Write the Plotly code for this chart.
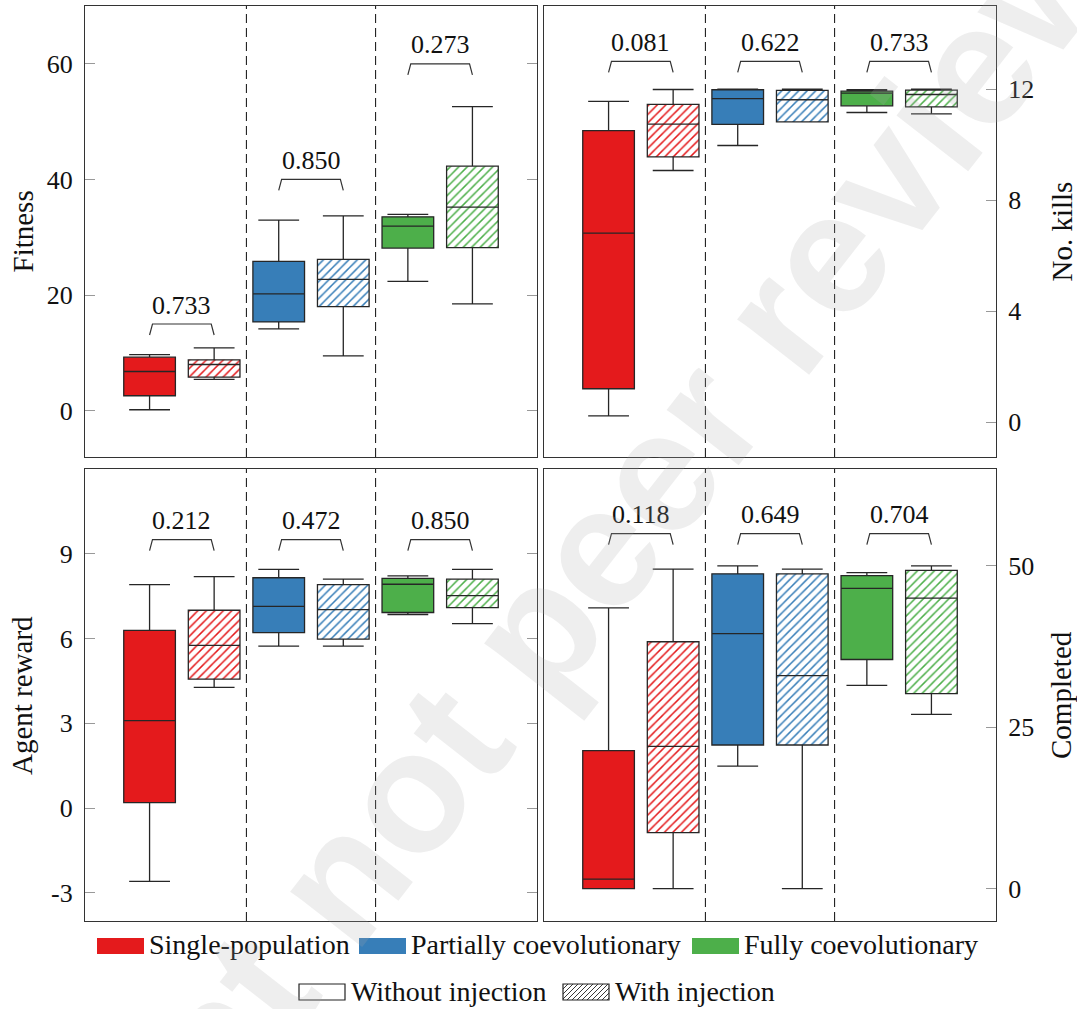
import plotly.graph_objects as go

# ---------------- data ----------------
groups = ["Single-population", "Partially coevolutionary", "Fully coevolutionary"]
group_colors = ["#E41A1C", "#377EB8", "#4DAF4A"]
injection_labels = ["Without injection", "With injection"]
# box order: (Single, without), (Single, with), (Partial, without), (Partial, with), (Fully, without), (Fully, with)
box_positions = [0, 1, 2, 3, 4, 5]
box_group = [0, 0, 1, 1, 2, 2]
box_hatched = [False, True, False, True, False, True]

# Fitness (top-left)
fit_low = [0.17, 5.41, 14.15, 9.49, 22.38, 18.5]
fit_q1 = [2.59, 5.81, 15.36, 18.0, 28.14, 28.2]
fit_med = [6.79, 8.0, 20.2, 22.73, 31.93, 35.2]
fit_q3 = [9.26, 8.80, 25.83, 26.18, 33.54, 42.3]
fit_high = [9.72, 10.87, 32.97, 33.7, 33.95, 52.6]
fit_p = ["0.733", "0.850", "0.273"]
fit_bracket = [15, 40, 60]
fit_ticks = [0, 20, 40, 60]

# No. kills (top-right)
kill_low = [0.22, 9.07, 9.97, 10.82, 11.16, 11.11]
kill_q1 = [1.20, 9.56, 10.73, 10.82, 11.40, 11.36]
kill_med = [6.81, 10.74, 11.66, 11.62, 11.86, 11.81]
kill_q3 = [10.51, 11.45, 11.98, 11.96, 11.93, 11.97]
kill_high = [11.56, 11.99, 12.0, 12.0, 11.98, 12.0]
kill_p = ["0.081", "0.622", "0.733"]
kill_bracket = [13, 13, 13]
kill_ticks = [0, 4, 8, 12]

# Agent reward (bottom-left)
rew_low = [-2.60, 4.27, 5.73, 5.73, 6.85, 6.53]
rew_q1 = [0.19, 4.56, 6.21, 5.98, 6.92, 7.09]
rew_med = [3.09, 5.76, 7.14, 7.02, 7.92, 7.52]
rew_q3 = [6.29, 7.0, 8.15, 7.91, 8.13, 8.10]
rew_high = [7.91, 8.19, 8.45, 8.10, 8.22, 8.45]
rew_p = ["0.212", "0.472", "0.850"]
rew_bracket = [9.5, 9.5, 9.5]
rew_ticks = [-3, 0, 3, 6, 9]

# Completed (bottom-right)
comp_low = [0, 0, 19.0, 0, 31.5, 27.0]
comp_q1 = [0, 8.7, 22.26, 22.26, 35.5, 30.2]
comp_med = [1.5, 22.05, 39.5, 33.0, 46.5, 45.0]
comp_q3 = [21.4, 38.25, 48.76, 48.76, 48.5, 49.3]
comp_high = [43.5, 49.5, 50, 49.5, 48.96, 50]
comp_p = ["0.118", "0.649", "0.704"]
comp_bracket = [55, 55, 55]
comp_ticks = [0, 25, 50]

panel_titles = ["Fitness", "No. kills", "Agent reward", "Completed"]
watermark = "Preprint not peer reviewed"

# ---------------- layout geometry ----------------
W, H = 1077, 1009
ML, MR, MT, MB = 85, 81, 6, 88
PW = W - ML - MR
PH = H - MT - MB
FONT = "Liberation Serif, Times New Roman, serif"


def px_x(px):
    return (px - ML) / PW


def px_y(py):
    return (H - MB - py) / PH


panel_px = [  # x0, x1, y_top, y_bottom
    (85, 537, 6, 457),
    (544, 996, 6, 457),
    (85, 537, 469, 921),
    (544, 996, 469, 921),
]
panel_ranges = [[-8, 70], [-1.26, 15], [-4, 12], [-5, 65]]
panel_side = ["left", "right", "left", "right"]

panels = [
    (fit_low, fit_q1, fit_med, fit_q3, fit_high, fit_p, fit_bracket, fit_ticks),
    (kill_low, kill_q1, kill_med, kill_q3, kill_high, kill_p, kill_bracket, kill_ticks),
    (rew_low, rew_q1, rew_med, rew_q3, rew_high, rew_p, rew_bracket, rew_ticks),
    (comp_low, comp_q1, comp_med, comp_q3, comp_high, comp_p, comp_bracket, comp_ticks),
]

fig = go.Figure()
shapes = []
annotations = []
layout_axes = {}

for i, (low, q1, med, q3, high, pvals, brk, ticks) in enumerate(panels):
    xa = "x" if i == 0 else f"x{i+1}"
    ya = "y" if i == 0 else f"y{i+1}"
    xname = "xaxis" if i == 0 else f"xaxis{i+1}"
    yname = "yaxis" if i == 0 else f"yaxis{i+1}"
    x0, x1, yt, yb = panel_px[i]
    rng = panel_ranges[i]

    for k, pos in enumerate(box_positions):
        col = group_colors[box_group[k]]
        if box_hatched[k]:
            fig.add_trace(go.Bar(
                x=[pos], y=[q3[k] - q1[k]], base=[q1[k]], width=0.8,
                marker=dict(color="white", line=dict(width=0),
                            pattern=dict(shape="/", fgcolor=col, bgcolor="white",
                                         fgopacity=1, size=6, solidity=0.25)),
                xaxis=xa, yaxis=ya, showlegend=False, hoverinfo="skip"))
        fig.add_trace(go.Box(
            x=[pos], q1=[q1[k]], median=[med[k]], q3=[q3[k]],
            lowerfence=[low[k]], upperfence=[high[k]],
            width=0.8, whiskerwidth=0.79,
            fillcolor="rgba(0,0,0,0)" if box_hatched[k] else col,
            line=dict(color="#262626", width=1.3),
            boxpoints=False, xaxis=xa, yaxis=ya,
            showlegend=False, hoverinfo="skip"))

    # significance brackets
    drop = 11 * (rng[1] - rng[0]) / (yb - yt)
    for g in range(3):
        a = box_positions[2 * g]
        b = box_positions[2 * g + 1]
        fig.add_trace(go.Scatter(
            x=[a, a + 0.045, b - 0.045, b],
            y=[brk[g] - drop, brk[g], brk[g], brk[g] - drop],
            mode="lines", line=dict(color="#333333", width=1.2),
            xaxis=xa, yaxis=ya, showlegend=False, hoverinfo="skip"))
        annotations.append(dict(
            x=(a + b) / 2, y=brk[g], xref=xa, yref=ya, text=pvals[g],
            showarrow=False, yanchor="middle", yshift=19,
            font=dict(family=FONT, size=26, color="#111")))

    # group separators
    for sep in [1.5, 3.5]:
        shapes.append(dict(type="line", xref=xa, yref=f"{ya} domain",
                           x0=sep, x1=sep, y0=0, y1=1,
                           line=dict(color="#222", width=1.1, dash="9px,5px")))

    layout_axes[xname] = dict(
        domain=[px_x(x0), px_x(x1)], range=[-1, 6], anchor=ya,
        showticklabels=False, ticks="", showgrid=False, zeroline=False,
        showline=True, linecolor="#333", linewidth=1.2, mirror=True)
    layout_axes[yname] = dict(
        domain=[px_y(yb), px_y(yt)], range=rng, anchor=xa,
        side=panel_side[i], tickvals=ticks, ticktext=[str(t) for t in ticks],
        ticks="inside", ticklen=10,
        tickcolor="#999", tickwidth=1, showgrid=False, zeroline=False,
        showline=True, linecolor="#333", linewidth=1.2,
        mirror="ticks" if panel_side[i] == "left" else True,
        ticklabelstandoff=6,
        tickfont=dict(family=FONT, size=26, color="#111"))

    # axis titles
    tx = 22 if panel_side[i] == "left" else 1061
    annotations.append(dict(
        x=px_x(tx), y=px_y((yt + yb) / 2), xref="paper", yref="paper",
        text=panel_titles[i], textangle=-90, showarrow=False,
        xanchor="center", yanchor="middle",
        font=dict(family=FONT, size=29, color="#111")))

# ---------------- legend (drawn manually) ----------------
row1_y0, row1_y1 = 938, 954
legend_row1_x = [(97, 144), (359, 406), (692, 739)]
for g in range(3):
    sx0, sx1 = legend_row1_x[g]
    shapes.append(dict(type="rect", xref="paper", yref="paper",
                       x0=px_x(sx0), x1=px_x(sx1), y0=px_y(row1_y1), y1=px_y(row1_y0),
                       fillcolor=group_colors[g], line=dict(width=0)))
    annotations.append(dict(x=px_x(sx1 + 3), y=px_y((row1_y0 + row1_y1) / 2 - 1),
                            xref="paper", yref="paper", text=groups[g],
                            showarrow=False, xanchor="left", yanchor="middle",
                            font=dict(family=FONT, size=28, color="#111")))

row2_y0, row2_y1 = 984, 1000
legend_row2_x = [(299, 345), (563, 609)]
for j in range(2):
    sx0, sx1 = legend_row2_x[j]
    if j == 1:
        step = 5
        hgt = row2_y1 - row2_y0
        t = -hgt
        while t < (sx1 - sx0):
            ax0, ay0 = sx0 + t, row2_y1
            ax1, ay1 = sx0 + t + hgt, row2_y0
            if ax0 < sx0:
                ay0 = row2_y1 - (sx0 - ax0)
                ax0 = sx0
            if ax1 > sx1:
                ay1 = row2_y0 + (ax1 - sx1)
                ax1 = sx1
            shapes.append(dict(type="line", xref="paper", yref="paper",
                               x0=px_x(ax0), y0=px_y(ay0), x1=px_x(ax1), y1=px_y(ay1),
                               line=dict(color="#222", width=0.9)))
            t += step
    shapes.append(dict(type="rect", xref="paper", yref="paper",
                       x0=px_x(sx0), x1=px_x(sx1), y0=px_y(row2_y1), y1=px_y(row2_y0),
                       fillcolor="rgba(0,0,0,0)", line=dict(color="#222", width=1.2)))
    annotations.append(dict(x=px_x(sx1 + 4), y=px_y((row2_y0 + row2_y1) / 2 - 1),
                            xref="paper", yref="paper", text=injection_labels[j],
                            showarrow=False, xanchor="left", yanchor="middle",
                            font=dict(family=FONT, size=28, color="#111")))

# watermark
annotations.append(dict(
    x=px_x(540), y=px_y(622), xref="paper", yref="paper", text=watermark,
    textangle=-52, showarrow=False, xanchor="center", yanchor="middle",
    font=dict(family="Liberation Sans, Arial, sans-serif", size=172, weight="bold",
              color="rgba(170,170,170,0.2)")))

fig.update_layout(
    width=W, height=H,
    margin=dict(l=ML, r=MR, t=MT, b=MB),
    paper_bgcolor="white", plot_bgcolor="white",
    barmode="overlay", boxmode="overlay",
    showlegend=False,
    shapes=shapes, annotations=annotations,
    **layout_axes)

fig.write_html("out.html", config={"displayModeBar": False},
               post_script="document.body.style.margin='0';document.body.style.overflow='hidden';")
